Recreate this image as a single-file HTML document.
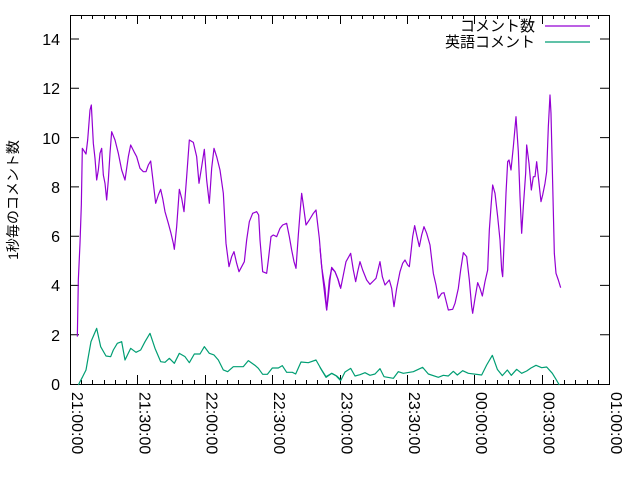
<!DOCTYPE html>
<html><head><meta charset="utf-8"><style>
body{margin:0;background:#fff}
svg{display:block;font-family:"Liberation Sans","Noto Sans CJK JP",sans-serif}
</style></head><body>
<svg width="640" height="480" viewBox="0 0 640 480" xmlns="http://www.w3.org/2000/svg">
<rect width="640" height="480" fill="#fff"/>
<g stroke="#000" stroke-width="1" fill="none">
<rect x="70.5" y="15.5" width="539" height="369"/>
<path d="M70 384.5h9M609 384.5h-9M70 334.7h9M609 334.7h-9M70 285.4h9M609 285.4h-9M70 236.2h9M609 236.2h-9M70 186.9h9M609 186.9h-9M70 137.6h9M609 137.6h-9M70 88.3h9M609 88.3h-9M70 39h9M609 39h-9"/>
<path id="tk" d=""/>
</g>
<g font-size="16" text-anchor="end" fill="#000">
<text x="60" y="390">0</text><text x="60" y="341">2</text><text x="60" y="291">4</text><text x="60" y="242">6</text><text x="60" y="193">8</text><text x="60" y="144">10</text><text x="60" y="94">12</text><text x="60" y="45">14</text>
</g>
<g font-size="16" fill="#000">
<text transform="translate(72,392) rotate(90)">21:00:00</text>
<text transform="translate(139.4,392) rotate(90)">21:30:00</text>
<text transform="translate(206.7,392) rotate(90)">22:00:00</text>
<text transform="translate(274,392) rotate(90)">22:30:00</text>
<text transform="translate(341.5,392) rotate(90)">23:00:00</text>
<text transform="translate(409,392) rotate(90)">23:30:00</text>
<text transform="translate(476,392) rotate(90)">00:00:00</text>
<text transform="translate(543.6,392) rotate(90)">00:30:00</text>
<text transform="translate(611,392) rotate(90)">01:00:00</text>
</g>
<text transform="translate(18,200) rotate(-90)" font-size="14" text-anchor="middle">1秒毎のコメント数</text>
<g font-size="15" text-anchor="end" fill="#000"><text x="535" y="31">コメント数</text><text x="535" y="47">英語コメント</text></g>
<line x1="545" y1="26" x2="590" y2="26" stroke="#9400d3" stroke-width="1.3"/>
<line x1="545" y1="42" x2="590" y2="42" stroke="#009e73" stroke-width="1.3"/>
<g fill="none" stroke-width="1.2" stroke-linejoin="round">
<g transform="translate(60,80) scale(0.33333)">
<polyline vector-effect="non-scaling-stroke" stroke="#9400d3" points="52,770 55,600 60,490 64,375 67,205 78,222 83,180 90,90 94,75 100,190 105,235 110,300 115,270 120,220 125,205 130,285 135,310 140,360 145,300 150,220 155,155 165,180 175,220 185,270 195,300 205,230 212,195 222,215 230,230 240,265 250,275 258,275 265,255 272,243 280,310 287,370 295,345 302,328 308,355 315,395 325,430 333,460 340,490 343,508 350,440 358,328 365,355 372,395 380,290 388,180 400,187 410,230 417,310 425,260 433,208 440,300 448,370 455,265 462,205 470,230 480,270 490,340 498,490 507,560 515,530 522,515 530,550 537,575 545,560 553,545 560,480 568,425 578,400 590,395 596,405 600,480 608,575 620,580 625,540 633,470 640,465 650,470 660,445 668,435 680,430 688,470 695,510 702,545 708,565 715,465 720,400 725,340 730,375 738,435 748,420 760,400 768,390 778,475 785,560 795,625 800,690 808,600 815,565 825,575 833,595 840,620"/>
<polyline vector-effect="non-scaling-stroke" stroke="#009e73" points="55,915 60,905 68,890 78,870 85,830 93,785 110,745 122,800 138,828 152,830 160,810 172,790 185,785 195,840 212,805 228,817 242,810 255,785 270,760 285,805 302,845 315,847 328,835 343,850 358,820 375,830 388,848 403,822 420,822 433,800 448,820 462,825 475,840 490,870 503,875 520,860 550,860 565,842 585,856 595,865 608,883 622,883 637,864 655,864 667,857 680,877 697,877 707,882 723,846 745,848 768,840 785,870 798,890 815,880 830,888 840,897"/>
</g>
<g transform="translate(320,80) scale(0.33333)">
<polyline vector-effect="non-scaling-stroke" stroke="#9400d3" points="0,505 8,590 15,650 20,690 25,650 30,600 35,562 45,575 55,600 62,625 70,585 78,545 92,520 100,570 107,605 113,575 120,545 128,570 140,600 150,613 160,603 168,595 180,545 187,590 195,615 208,600 215,625 222,680 230,625 240,575 248,550 255,540 263,555 268,560 272,525 278,470 284,437 290,465 298,500 305,465 312,440 320,460 330,495 340,580 348,615 355,655 365,640 372,638 385,690 398,688 405,670 415,625 422,570 430,518 440,530 448,600 455,680 458,700 465,655 473,608 480,625 487,648 495,605 503,570 508,450 513,380 518,315 525,340 533,410 540,480 545,570 548,590 553,470 558,340 563,245 567,240 573,270 580,200 588,110 595,215 600,350 605,460 610,380 617,280 620,195 627,250 634,330 640,290 645,290 650,245 656,300 663,365 668,345 675,310 680,275 685,140 690,45 693,100 698,310 703,520 708,580 715,600 722,623"/>
<polyline vector-effect="non-scaling-stroke" stroke="#009e73" points="0,862 18,892 35,880 48,887 62,902 75,876 92,865 105,888 120,884 135,878 150,886 165,882 180,866 192,890 220,895 235,875 250,880 280,875 308,862 325,882 355,892 370,886 385,888 400,874 412,885 428,872 445,880 485,885 500,855 517,826 532,868 547,887 562,870 574,886 590,868 605,880 620,873 633,864 648,856 665,863 680,861 697,880 708,898 718,915"/>
</g>
</g>
<script>
var d="";
for(var i=0;i<=48;i++){var x=70+i*539/48;x=Math.round(x)+0.5;var L=(i%6==0)?9:4;d+="M"+x+" 384v-"+L+"M"+x+" 15v"+L;}
document.getElementById("tk").setAttribute("d",d);
</script>
</svg>
</body></html>
